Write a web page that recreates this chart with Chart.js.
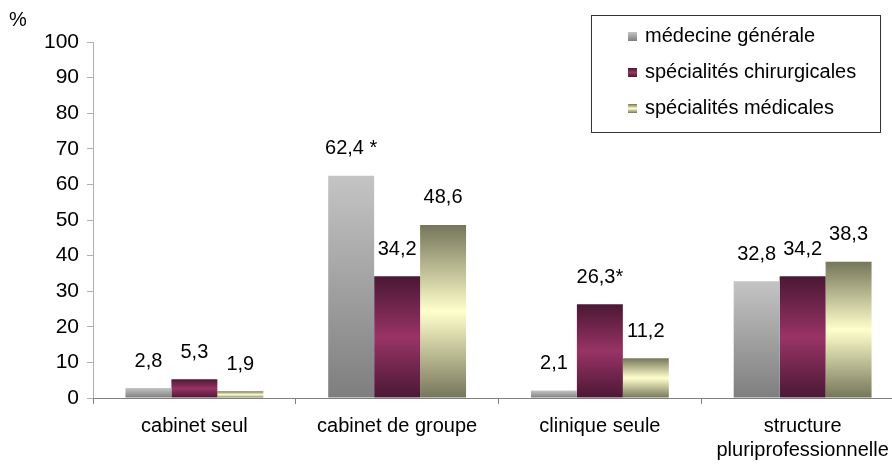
<!DOCTYPE html>
<html>
<head>
<meta charset="utf-8">
<script src="https://cdn.jsdelivr.net/npm/chart.js@4/dist/chart.umd.min.js"></script>
<style>
  html, body { margin: 0; padding: 0; background: #fff; overflow: hidden; }
  #wrap { position: relative; width: 904px; height: 464px; }
  #pct { position: absolute; left: 9px; top: 8px; font: 20px "Liberation Sans", Arial, sans-serif; }
  #legend { position: absolute; left: 591px; top: 15px; width: 288px; height: 116px;
            border: 1px solid #333; font: 20px "Liberation Sans", Arial, sans-serif; }
  #legend div { position: absolute; left: 36px; }
  #legend span.box { display: inline-block; width: 9px; height: 9px; margin-right: 8px; vertical-align: 1px; }
</style>
</head>
<body>
<div id="wrap">
  <canvas id="chart" width="904" height="464"></canvas>
  <div id="pct">%</div>
  <div id="legend"></div>
</div>
<script>
const categories = ['cabinet seul', 'cabinet de groupe', 'clinique seule', ['structure', 'pluriprofessionnelle']];
const seriesNames = ['médecine générale', 'spécialités chirurgicales', 'spécialités médicales'];
const medecineGenerale = [2.8, 62.4, 2.1, 32.8];
const specChirurgicales = [5.3, 34.2, 26.3, 34.2];
const specMedicales = [1.9, 48.6, 11.2, 38.3];
// astérisques ajoutés aux étiquettes
const notesGenerale = ['', ' *', '', ''];
const notesChirurgicales = ['', '', '*', ''];
const notesMedicales = ['', '', '', ''];
const yTicks = [0, 10, 20, 30, 40, 50, 60, 70, 80, 90, 100];

const gradGris = ['#c4c4c4', '#7e7e7e'];
const gradBordeaux = ['#4a1834', '#993366', '#4a1834'];
const gradJaune = ['#75755a', '#ffffcc', '#75755a'];

function degrade(stops) {
    return function (c) {
        if (c.type !== 'data') return stops[1];
        const y = c.chart.scales.y;
        const top = y.getPixelForValue(c.parsed.y);
        const bot = y.getPixelForValue(0);
        if (!isFinite(top) || !isFinite(bot) || top === bot) return stops[1];
        const g = c.chart.ctx.createLinearGradient(0, top, 0, bot);
        stops.forEach((s, i) => g.addColorStop(i / (stops.length - 1), s));
        return g;
    };
}

const FONT = '"Liberation Sans", Arial, sans-serif';

const etiquettes = {
    id: 'etiquettes',
    afterDatasetsDraw(chart) {
        const ctx = chart.ctx;
        ctx.save();
        ctx.font = '20px ' + FONT;
        ctx.fillStyle = '#000';
        ctx.textAlign = 'center';
        ctx.textBaseline = 'middle';
        chart.data.datasets.forEach((ds, i) => {
            chart.getDatasetMeta(i).data.forEach((el, j) => {
                const txt = String(ds.data[j]).replace('.', ',') + ds.notes[j];
                ctx.fillText(txt, el.x, el.y - 27);
            });
        });
        ctx.restore();
    }
};

new Chart(document.getElementById('chart'), {
    type: 'bar',
    data: {
        labels: categories,
        datasets: [
            { label: seriesNames[0], data: medecineGenerale, notes: notesGenerale, backgroundColor: degrade(gradGris) },
            { label: seriesNames[1], data: specChirurgicales, notes: notesChirurgicales, backgroundColor: degrade(gradBordeaux) },
            { label: seriesNames[2], data: specMedicales, notes: notesMedicales, backgroundColor: degrade(gradJaune) }
        ]
    },
    options: {
        responsive: false,
        animation: false,
        layout: { padding: { top: 42, right: 0, left: 0, bottom: 0 } },
        datasets: { bar: { categoryPercentage: 0.68, barPercentage: 1, borderWidth: 0 } },
        plugins: { legend: { display: false }, tooltip: { enabled: false } },
        scales: {
            y: {
                min: 0, max: 100,
                afterFit(s) { s.width = 93; },
                afterBuildTicks(s) { s.ticks = yTicks.map(v => ({ value: v })); },
                border: { color: '#b0b0b0' },
                grid: { drawOnChartArea: false, tickLength: 6, color: '#b0b0b0' },
                ticks: { color: '#000', padding: 8, font: { family: FONT, size: 21 } }
            },
            x: {
                afterFit(s) { s.height = 66; },
                border: { color: '#808080' },
                grid: { drawOnChartArea: false, offset: true, tickLength: 6, color: '#808080' },
                ticks: { color: '#000', padding: 10, maxRotation: 0, autoSkip: false, font: { family: FONT, size: 20 } }
            }
        }
    },
    plugins: [etiquettes]
});

// légende
const leg = document.getElementById('legend');
const stopsList = [gradGris, gradBordeaux, gradJaune];
seriesNames.forEach((n, i) => {
    const d = document.createElement('div');
    d.style.top = (8 + i * 36) + 'px';
    const b = document.createElement('span');
    b.className = 'box';
    b.style.background = 'linear-gradient(' + stopsList[i].join(',') + ')';
    d.appendChild(b);
    d.appendChild(document.createTextNode(n));
    leg.appendChild(d);
});
</script>
</body>
</html>
